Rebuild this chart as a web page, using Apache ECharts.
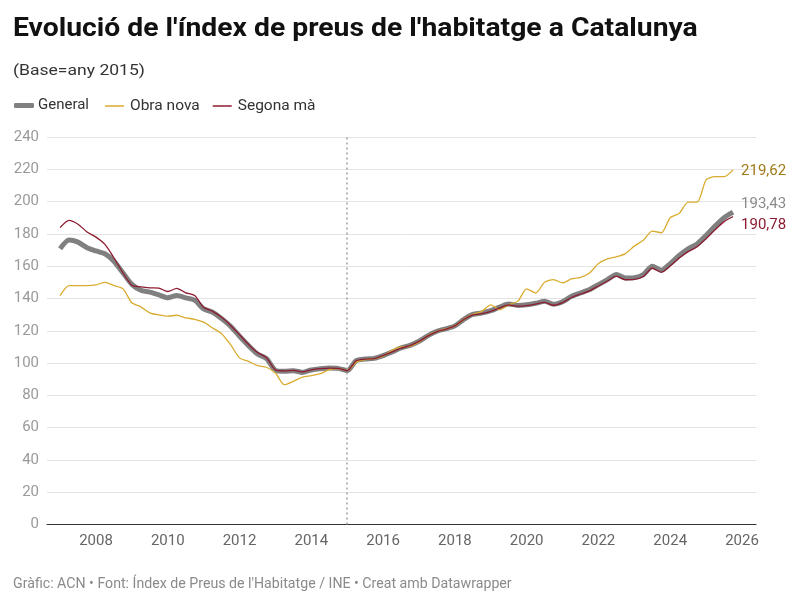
<!DOCTYPE html>
<html>
<head>
<meta charset="utf-8">
<script src="https://cdn.jsdelivr.net/npm/echarts@6/dist/echarts.min.js"></script>
<style>
html,body{margin:0;padding:0;background:#fff;}
#chart{width:800px;height:606px;}
</style>
</head>
<body>
<div id="chart"></div>
<script>
// Quarterly data, 2007 T1 .. 2025 T4
const firstYear = 2007;
const yTicks = [0,20,40,60,80,100,120,140,160,180,200,220,240];
const xTickYears = [2008,2010,2012,2014,2016,2018,2020,2022,2024,2026];
const seriesNames = ['General','Obra nova','Segona mà'];

const general = [
  170.8,176.2,174.9,171.4,
  169.4,167.7,163.1,155.9,
  148.7,145.1,143.9,142.2,
  140.4,141.8,140.4,138.9,
  133.5,131.5,127.5,122.8,
  116.6,110.8,105.6,102.7,
  95.5,94.9,95.3,94.2,
  95.7,96.5,96.9,96.7,
  95.3,101.5,102.5,102.9,
  104.6,106.9,109.4,111.0,
  113.5,117.0,119.7,121.2,
  123.0,127.0,130.1,131.0,
  132.4,134.7,136.6,135.7,
  136.1,137.0,138.2,136.4,
  138.0,141.3,143.4,145.5,
  148.6,151.7,154.8,152.7,
  152.9,154.8,160.0,157.5,
  161.6,166.6,170.7,173.8,
  179.0,184.8,190.0,193.43
];
const obraNova = [
  141.8,148.0,148.0,148.0,
  148.4,150.0,148.0,146.1,
  137.3,134.8,131.1,129.8,
  129.0,129.6,128.0,127.1,
  125.3,121.7,118.2,111.4,
  103.2,101.0,98.4,97.4,
  93.8,86.6,88.7,91.3,
  92.2,93.4,95.9,96.5,
  95.3,100.5,102.1,102.7,
  104.2,107.9,110.0,110.4,
  112.9,117.0,119.7,121.2,
  123.0,127.0,130.1,132.0,
  136.0,133.0,136.1,138.2,
  145.9,143.4,150.0,151.7,
  149.6,152.1,153.1,155.8,
  161.6,164.5,165.8,167.8,
  172.4,176.1,181.7,180.7,
  190.0,192.7,199.7,199.7,
  213.4,215.4,215.4,219.62
];
const segonaMa = [
  183.9,188.4,186.0,181.2,
  178.0,173.5,165.2,155.9,
  148.2,147.2,146.6,146.4,
  144.3,146.2,143.5,141.8,
  134.5,132.0,128.3,123.3,
  117.5,111.5,106.5,103.3,
  95.8,95.2,95.5,94.5,
  95.8,96.5,96.9,96.7,
  95.3,101.4,102.4,102.8,
  104.6,106.9,109.2,110.8,
  113.4,116.8,119.5,121.0,
  123.0,127.0,129.8,130.6,
  132.0,134.2,136.0,135.2,
  135.6,136.5,137.6,135.8,
  137.4,140.6,142.7,144.7,
  147.7,150.8,153.8,151.6,
  151.8,153.6,158.7,156.2,
  160.2,165.0,169.0,172.0,
  177.0,182.5,187.6,190.78
];

// quarter start dates as decimal years
const quarters = general.map((_, i) => firstYear + i / 4);
const pairs = arr => arr.map((v, i) => [quarters[i], v]);
const fmt = v => v.toFixed(2).replace('.', ',');

const FONT = 'Roboto, "Noto Sans", sans-serif';
const colors = { general: '#808080', obra: '#d9ab2f', segona: '#8c1c30' };

const chart = echarts.init(document.getElementById('chart'), null, { renderer: 'canvas' });
chart.setOption({
  animation: false,
  backgroundColor: '#fff',
  textStyle: { fontFamily: FONT },
  graphic: [
    {
      type: 'text', x: 13, y: 17, scaleX: 1.133, silent: true,
      style: {
        text: "Evolució de l'índex de preus de l'habitatge a Catalunya",
        fill: '#111', font: 'bold 25px ' + FONT, verticalAlign: 'top', align: 'left'
      }
    },
    {
      type: 'text', x: 13, y: 64, scaleX: 1.17, silent: true,
      style: {
        text: '(Base=any 2015)',
        fill: '#333', font: '15px ' + FONT, verticalAlign: 'top', align: 'left'
      }
    },
    {
      type: 'text', x: 13, y: 577, scaleX: 1.012, silent: true,
      style: {
        text: "Gràfic: ACN • Font: Índex de Preus de l'Habitatge / INE • Creat amb Datawrapper",
        fill: '#8a8a8a', font: '14px ' + FONT, verticalAlign: 'top', align: 'left'
      }
    }
  ],
  legend: [
    {
      data: [{ name: seriesNames[0], icon: 'roundRect' }],
      left: 9, top: 93, itemWidth: 20, itemHeight: 5, itemGap: 14,
      textStyle: { fontFamily: FONT, fontSize: 15, color: '#333', padding: [0,0,0,-1] }
    },
    {
      data: [{ name: seriesNames[1], icon: 'rect' }, { name: seriesNames[2], icon: 'rect' }],
      left: 100, top: 93, itemWidth: 19, itemHeight: 1.5, itemGap: 13,
      textStyle: { fontFamily: FONT, fontSize: 15.5, color: '#333', padding: [0,0,0,1] }
    }
  ],
  grid: { left: 47, right: 44, top: 137, bottom: 81.5, containLabel: false },
  xAxis: {
    type: 'value',
    min: 2006.635, max: 2026.39,
    splitLine: { show: false },
    axisTick: { show: false },
    axisLine: { show: true, lineStyle: { color: '#333', width: 1.2 } },
    axisLabel: {
      customValues: xTickYears,
      formatter: v => String(Math.round(v)),
      color: '#666', fontSize: 15, fontFamily: FONT, margin: 9
    }
  },
  yAxis: {
    type: 'value',
    min: 0, max: 240, interval: 20,
    axisLine: { show: false },
    axisTick: { show: false },
    splitLine: { lineStyle: { color: '#e3e3e3', width: 1 } },
    axisLabel: {
      customValues: yTicks,
      color: '#9a9a9a', fontSize: 15, fontFamily: FONT, margin: 8
    }
  },
  series: [
    {
      name: seriesNames[0], type: 'line', data: pairs(general),
      showSymbol: false, smooth: 0.25, z: 2,
      lineStyle: { color: colors.general, width: 5 },
      itemStyle: { color: colors.general },
      endLabel: {
        show: true, formatter: p => fmt(p.value[1]), color: '#8a8a8a',
        fontSize: 15, fontFamily: FONT, distance: 8, offset: [0, -8]
      },
      markLine: {
        silent: true, symbol: 'none', label: { show: false },
        lineStyle: { color: '#a0a0a0', type: [2, 3], width: 1.5 },
        data: [{ xAxis: 2015 }]
      }
    },
    {
      name: seriesNames[1], type: 'line', data: pairs(obraNova),
      showSymbol: false, smooth: 0.25, z: 3,
      lineStyle: { color: colors.obra, width: 1.3 },
      itemStyle: { color: colors.obra },
      endLabel: {
        show: true, formatter: p => fmt(p.value[1]), color: '#a07a18',
        fontSize: 15, fontFamily: FONT, distance: 8, offset: [0, 1]
      }
    },
    {
      name: seriesNames[2], type: 'line', data: pairs(segonaMa),
      showSymbol: false, smooth: 0.25, z: 4,
      lineStyle: { color: colors.segona, width: 1.3 },
      itemStyle: { color: colors.segona },
      endLabel: {
        show: true, formatter: p => fmt(p.value[1]), color: colors.segona,
        fontSize: 15, fontFamily: FONT, distance: 8, offset: [0, 9]
      }
    }
  ]
});
</script>
</body>
</html>
